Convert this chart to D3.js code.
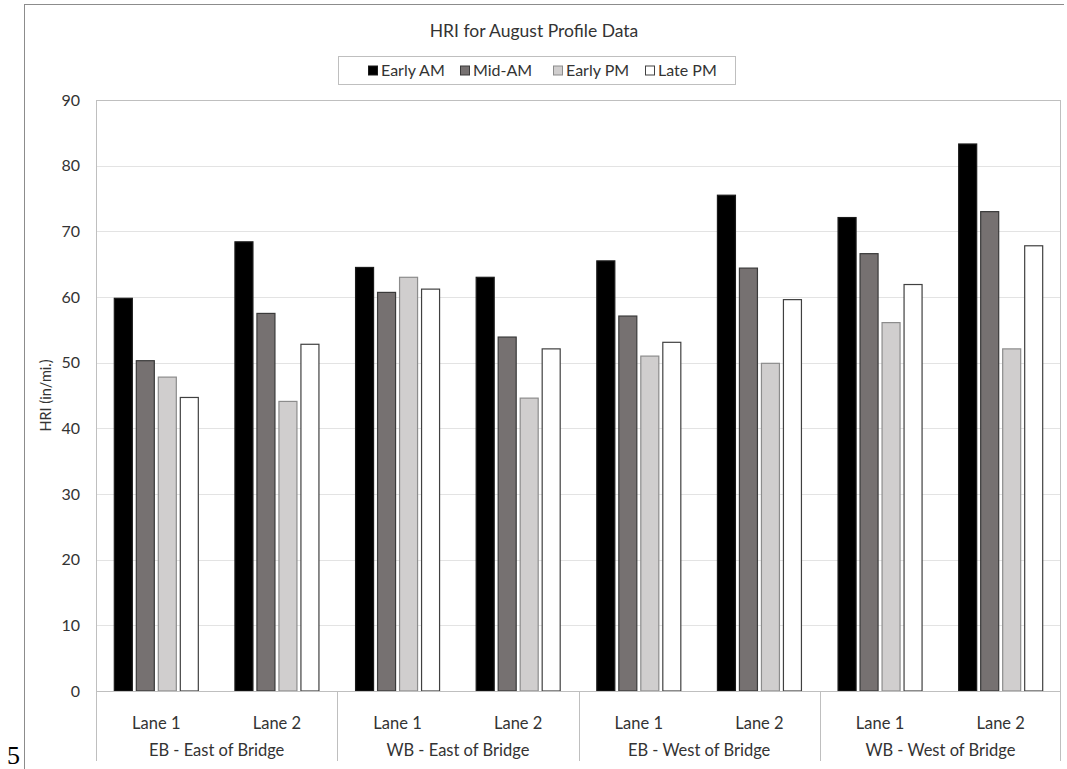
<!DOCTYPE html>
<html>
<head>
<meta charset="utf-8">
<script src="https://cdn.jsdelivr.net/npm/d3@7"></script>
<style>
  html, body { margin: 0; padding: 0; background: #fff; }
  svg { display: block; }
  text { font-family: Lato, "Open Sans", sans-serif; fill: #333; }
  text.pagenum { font-family: "Liberation Serif", "DejaVu Serif", serif; fill: #000; }
</style>
</head>
<body>
<svg id="chart" width="1067" height="769"></svg>
<script>
// Regions (outer category) and lanes (inner category)
const regions = ["EB - East of Bridge", "WB - East of Bridge", "EB - West of Bridge", "WB - West of Bridge"];
const lanes = ["Lane 1", "Lane 2"];
const series = ["Early AM", "Mid-AM", "Early PM", "Late PM"];

// HRI (in/mi.) per series, one value per region/lane pair in order
const earlyAM = [59.8, 68.4, 64.5, 63.0, 65.5, 75.5, 72.1, 83.3];
const midAM   = [50.3, 57.5, 60.7, 53.9, 57.1, 64.4, 66.6, 73.0];
const earlyPM = [47.8, 44.1, 63.0, 44.6, 51.0, 49.9, 56.1, 52.1];
const latePM  = [44.7, 52.8, 61.2, 52.1, 53.1, 59.6, 61.9, 67.8];

const yTicks = [0, 10, 20, 30, 40, 50, 60, 70, 80, 90];

const fills   = ["#000000", "#767171", "#d0cece", "#ffffff"];
const strokes = ["#1a1a1a", "#3a3a3a", "#8c8c8c", "#404040"];

const seriesValues = [earlyAM, midAM, earlyPM, latePM];
const slots = [];
regions.forEach(r => lanes.forEach(l => slots.push(r + "|" + l)));
const rows = [];
slots.forEach((slot, i) => {
  series.forEach((s, j) => rows.push({ slot, series: s, value: seriesValues[j][i], idx: j }));
});

const svg = d3.select("#chart");

// chart frame (left and top edges only visible)
svg.append("line").attr("x1", 24.5).attr("x2", 24.5).attr("y1", 4).attr("y2", 769)
  .attr("stroke", "#8c8c8c").attr("stroke-width", 1);
svg.append("line").attr("x1", 24).attr("x2", 1064).attr("y1", 4.5).attr("y2", 4.5)
  .attr("stroke", "#8c8c8c").attr("stroke-width", 1);

const plot = { left: 96, right: 1061, top: 100, bottom: 691 };

const y = d3.scaleLinear().domain([0, 90]).range([plot.bottom, plot.top]);
const x0 = d3.scaleBand().domain(slots).range([plot.left, plot.right]).padding(0);
const x1 = d3.scaleBand().domain(series).range([-44, 44]).paddingInner(0.136).paddingOuter(0.068);

// gridlines
svg.append("g").selectAll("line").data(yTicks.filter(t => t > 0)).join("line")
  .attr("x1", plot.left).attr("x2", plot.right)
  .attr("y1", d => Math.round(y(d)) + 0.5).attr("y2", d => Math.round(y(d)) + 0.5)
  .attr("stroke", "#e3e3e3").attr("stroke-width", 1.2);

// plot area outline
svg.append("line").attr("x1", plot.left).attr("x2", plot.right)
  .attr("y1", plot.top + 0.5).attr("y2", plot.top + 0.5).attr("stroke", "#bfbfbf");
svg.append("line").attr("x1", plot.left + 0.5).attr("x2", plot.left + 0.5)
  .attr("y1", plot.top).attr("y2", plot.bottom).attr("stroke", "#bfbfbf");
svg.append("line").attr("x1", plot.right - 0.5).attr("x2", plot.right - 0.5)
  .attr("y1", plot.top).attr("y2", 761).attr("stroke", "#bfbfbf");

// y axis labels
const yAxis = d3.axisLeft(y).tickValues(yTicks).tickSize(0).tickPadding(16);
const gy = svg.append("g").attr("transform", `translate(${plot.left},0)`).call(yAxis);
gy.select(".domain").remove();
gy.selectAll("text").style("font-size", "16px").style("font-family", "Lato, 'Open Sans', sans-serif").attr("fill", "#333");

svg.append("text")
  .attr("transform", `translate(46,${(plot.top + plot.bottom) / 2}) rotate(-90)`)
  .attr("text-anchor", "middle").attr("dy", "0.35em")
  .style("font-size", "14.5px").text("HRI (in/mi.)");

// bars
svg.append("g").selectAll("rect").data(rows).join("rect")
  .attr("x", d => x0(d.slot) + x0.bandwidth() / 2 + x1(d.series) + 0.5)
  .attr("y", d => y(d.value))
  .attr("width", x1.bandwidth() - 1)
  .attr("height", d => y(0) - y(d.value))
  .attr("fill", d => fills[d.idx])
  .attr("stroke", d => strokes[d.idx])
  .attr("stroke-width", 1.2);

// category axis
svg.append("line").attr("x1", plot.left).attr("x2", plot.right)
  .attr("y1", plot.bottom + 0.5).attr("y2", plot.bottom + 0.5).attr("stroke", "#bfbfbf");

const regionScale = d3.scaleBand().domain(regions).range([plot.left, plot.right]);
svg.append("g").selectAll("line").data(regions.slice(1)).join("line")
  .attr("x1", d => Math.round(regionScale(d)) + 0.5).attr("x2", d => Math.round(regionScale(d)) + 0.5)
  .attr("y1", plot.bottom).attr("y2", 761).attr("stroke", "#bfbfbf");
svg.append("line").attr("x1", plot.left + 0.5).attr("x2", plot.left + 0.5)
  .attr("y1", plot.bottom).attr("y2", 761).attr("stroke", "#bfbfbf");

svg.append("g").selectAll("text").data(slots).join("text")
  .attr("x", d => x0(d) + x0.bandwidth() / 2).attr("y", 723)
  .attr("text-anchor", "middle").attr("dy", "0.35em")
  .style("font-size", "16.5px").text(d => d.split("|")[1]);

svg.append("g").selectAll("text").data(regions).join("text")
  .attr("x", d => regionScale(d) + regionScale.bandwidth() / 2).attr("y", 750)
  .attr("text-anchor", "middle").attr("dy", "0.35em")
  .style("font-size", "16.5px").text(d => d);

// title
svg.append("text").attr("x", 534).attr("y", 31).attr("text-anchor", "middle").attr("dy", "0.35em")
  .style("font-size", "17.5px").text("HRI for August Profile Data");

// legend
const legend = svg.append("g");
legend.append("rect").attr("x", 338.5).attr("y", 56.5).attr("width", 397).attr("height", 28)
  .attr("fill", "#fff").attr("stroke", "#bfbfbf");
const legendX = [368, 460, 553, 645];
const items = legend.selectAll("g.item").data(series).join("g")
  .attr("class", "item")
  .attr("transform", (d, i) => `translate(${legendX[i]},70.5)`);
items.append("rect").attr("x", 0.5).attr("y", -4.5).attr("width", 9).attr("height", 9)
  .attr("fill", (d, i) => fills[i]).attr("stroke", (d, i) => strokes[i]);
items.append("text").attr("x", 13).attr("dy", "0.35em")
  .style("font-size", "16px").text(d => d);

// page number in the lower-left margin
svg.append("text").attr("class", "pagenum").attr("x", 7).attr("y", 764)
  .style("font-size", "26px").text("5");
</script>
</body>
</html>
